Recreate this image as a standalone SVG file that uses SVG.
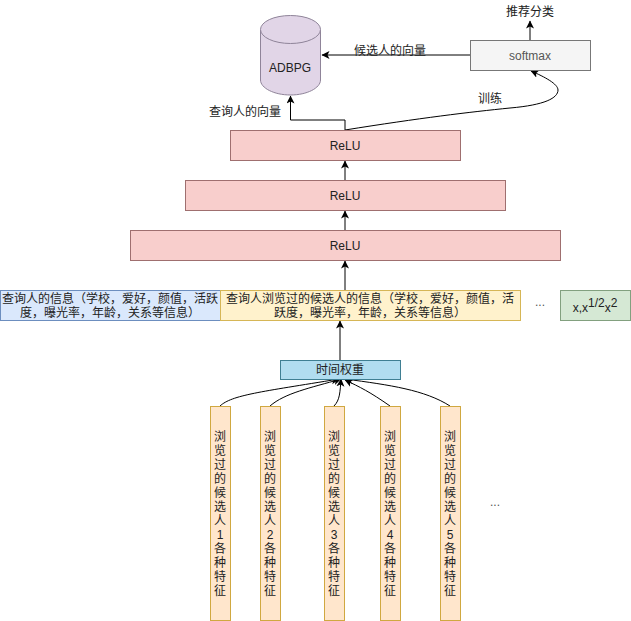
<svg xmlns="http://www.w3.org/2000/svg" width="631" height="621" viewBox="0 0 631 621">
<defs>
<marker id="a" markerWidth="9" markerHeight="10" refX="7.500" refY="4" orient="auto" markerUnits="userSpaceOnUse"><path d="M0 0L8 4L0 8L2 4Z" fill="#000"/></marker>
</defs>
<style>
text{font-family:"Liberation Sans","Noto Sans CJK SC",sans-serif;font-size:12px;fill:#222;text-anchor:middle}
.g{fill:#555}
.r{fill:#f8cecc;stroke:#9f6f6f;stroke-width:1}
.v{fill:#ffe6cc;stroke:#d0a840;stroke-width:1}
.c{fill:none;stroke:#000;stroke-width:1;marker-end:url(#a)}
</style>
<rect width="631" height="621" fill="#fff"/>
<g id="connectors">
<path class="c" d="M345 130V120H290.500V96"/>
<path class="c" d="M470 55H322"/>
<path class="c" d="M530 40V21"/>
<path class="c" d="M345 130C420 118 470 112 510 108C545 105 558 98 558 90C558 84 545 77 531 71"/>
<path class="c" d="M345 180V161"/>
<path class="c" d="M345 230V211"/>
<path class="c" d="M345 290V261"/>
<path class="c" d="M340 360V321"/>
<path class="c" d="M220 406C232 395 260 392 339 379"/>
<path class="c" d="M270 406C285 393 310 388 341 379"/>
<path class="c" d="M334 406C340 400 340 392 341 379"/>
<path class="c" d="M390 406C370 392 360 387 345 380"/>
<path class="c" d="M450 406C425 390 390 385 345 379"/>
</g>
<g id="adbpg">
<path d="M260.500 30V80C260.500 88 274 95 290.500 95S320.500 88 320.500 80V30Z" fill="#e1d5e7" stroke="#8f8499"/>
<ellipse cx="290.500" cy="29.500" rx="30" ry="14" fill="#e1d5e7" stroke="#8f8499"/>
<text x="290" y="72">ADBPG</text>
</g>
<g id="softmax"><rect x="470.500" y="40.500" width="120" height="30" fill="#f5f5f5" stroke="#777"/><text class="g" x="530" y="60">softmax</text></g>
<g id="label-rec"><text x="530" y="16">推荐分类</text></g>
<g id="label-cand"><text x="390" y="55">候选人的向量</text></g>
<g id="label-query"><text x="245" y="116">查询人的向量</text></g>
<g id="label-train"><text x="490" y="103">训练</text></g>
<g id="relu1"><rect class="r" x="230.500" y="130.500" width="230" height="30"/><text x="345" y="150">ReLU</text></g>
<g id="relu2"><rect class="r" x="185.500" y="180.500" width="320" height="30"/><text x="345" y="200">ReLU</text></g>
<g id="relu3"><rect class="r" x="130.500" y="230.500" width="430" height="30"/><text x="345" y="250">ReLU</text></g>
<g id="query-info"><rect x="0.500" y="290.500" width="220" height="30" fill="#dae8fc" stroke="#6c8ebf"/><text x="110" y="303">查询人的信息（学校，爱好，颜值，活跃</text><text x="110" y="317">度，曝光率，年龄，关系等信息）</text></g>
<g id="candidate-info"><rect x="220.500" y="290.500" width="300" height="30" fill="#fff2cc" stroke="#d6b656"/><text x="370" y="303">查询人浏览过的候选人的信息（学校，爱好，颜值，活</text><text x="370" y="317">跃度，曝光率，年龄，关系等信息）</text></g>
<g id="dots1"><text class="g" x="540" y="306">...</text></g>
<g id="power"><rect x="560.500" y="290.500" width="70" height="30" fill="#d5e8d4" stroke="#82a07f"/><text x="595" y="312">x,x<tspan dy="-5">1/2</tspan><tspan dy="5">x</tspan><tspan dy="-5">2</tspan></text></g>
<g id="time-weight"><rect x="280.500" y="360.500" width="120" height="19" fill="#b1ddf0" stroke="#3f7f93"/><text x="340" y="374">时间权重</text></g>
<g id="c1"><rect class="v" x="210.500" y="406.500" width="20" height="214"/><text><tspan x="220" y="441">浏</tspan><tspan x="220" y="455">览</tspan><tspan x="220" y="469">过</tspan><tspan x="220" y="483">的</tspan><tspan x="220" y="497">候</tspan><tspan x="220" y="511">选</tspan><tspan x="220" y="525">人</tspan><tspan x="220" y="539">1</tspan><tspan x="220" y="553">各</tspan><tspan x="220" y="567">种</tspan><tspan x="220" y="581">特</tspan><tspan x="220" y="595">征</tspan></text></g>
<g id="c2"><rect class="v" x="260.500" y="406.500" width="20" height="214"/><text><tspan x="270" y="441">浏</tspan><tspan x="270" y="455">览</tspan><tspan x="270" y="469">过</tspan><tspan x="270" y="483">的</tspan><tspan x="270" y="497">候</tspan><tspan x="270" y="511">选</tspan><tspan x="270" y="525">人</tspan><tspan x="270" y="539">2</tspan><tspan x="270" y="553">各</tspan><tspan x="270" y="567">种</tspan><tspan x="270" y="581">特</tspan><tspan x="270" y="595">征</tspan></text></g>
<g id="c3"><rect class="v" x="324.500" y="406.500" width="20" height="214"/><text><tspan x="334" y="441">浏</tspan><tspan x="334" y="455">览</tspan><tspan x="334" y="469">过</tspan><tspan x="334" y="483">的</tspan><tspan x="334" y="497">候</tspan><tspan x="334" y="511">选</tspan><tspan x="334" y="525">人</tspan><tspan x="334" y="539">3</tspan><tspan x="334" y="553">各</tspan><tspan x="334" y="567">种</tspan><tspan x="334" y="581">特</tspan><tspan x="334" y="595">征</tspan></text></g>
<g id="c4"><rect class="v" x="380.500" y="406.500" width="20" height="214"/><text><tspan x="390" y="441">浏</tspan><tspan x="390" y="455">览</tspan><tspan x="390" y="469">过</tspan><tspan x="390" y="483">的</tspan><tspan x="390" y="497">候</tspan><tspan x="390" y="511">选</tspan><tspan x="390" y="525">人</tspan><tspan x="390" y="539">4</tspan><tspan x="390" y="553">各</tspan><tspan x="390" y="567">种</tspan><tspan x="390" y="581">特</tspan><tspan x="390" y="595">征</tspan></text></g>
<g id="c5"><rect class="v" x="440.500" y="406.500" width="20" height="214"/><text><tspan x="450" y="441">浏</tspan><tspan x="450" y="455">览</tspan><tspan x="450" y="469">过</tspan><tspan x="450" y="483">的</tspan><tspan x="450" y="497">候</tspan><tspan x="450" y="511">选</tspan><tspan x="450" y="525">人</tspan><tspan x="450" y="539">5</tspan><tspan x="450" y="553">各</tspan><tspan x="450" y="567">种</tspan><tspan x="450" y="581">特</tspan><tspan x="450" y="595">征</tspan></text></g>
<g id="dots2"><text class="g" x="495" y="506">...</text></g>
</svg>
